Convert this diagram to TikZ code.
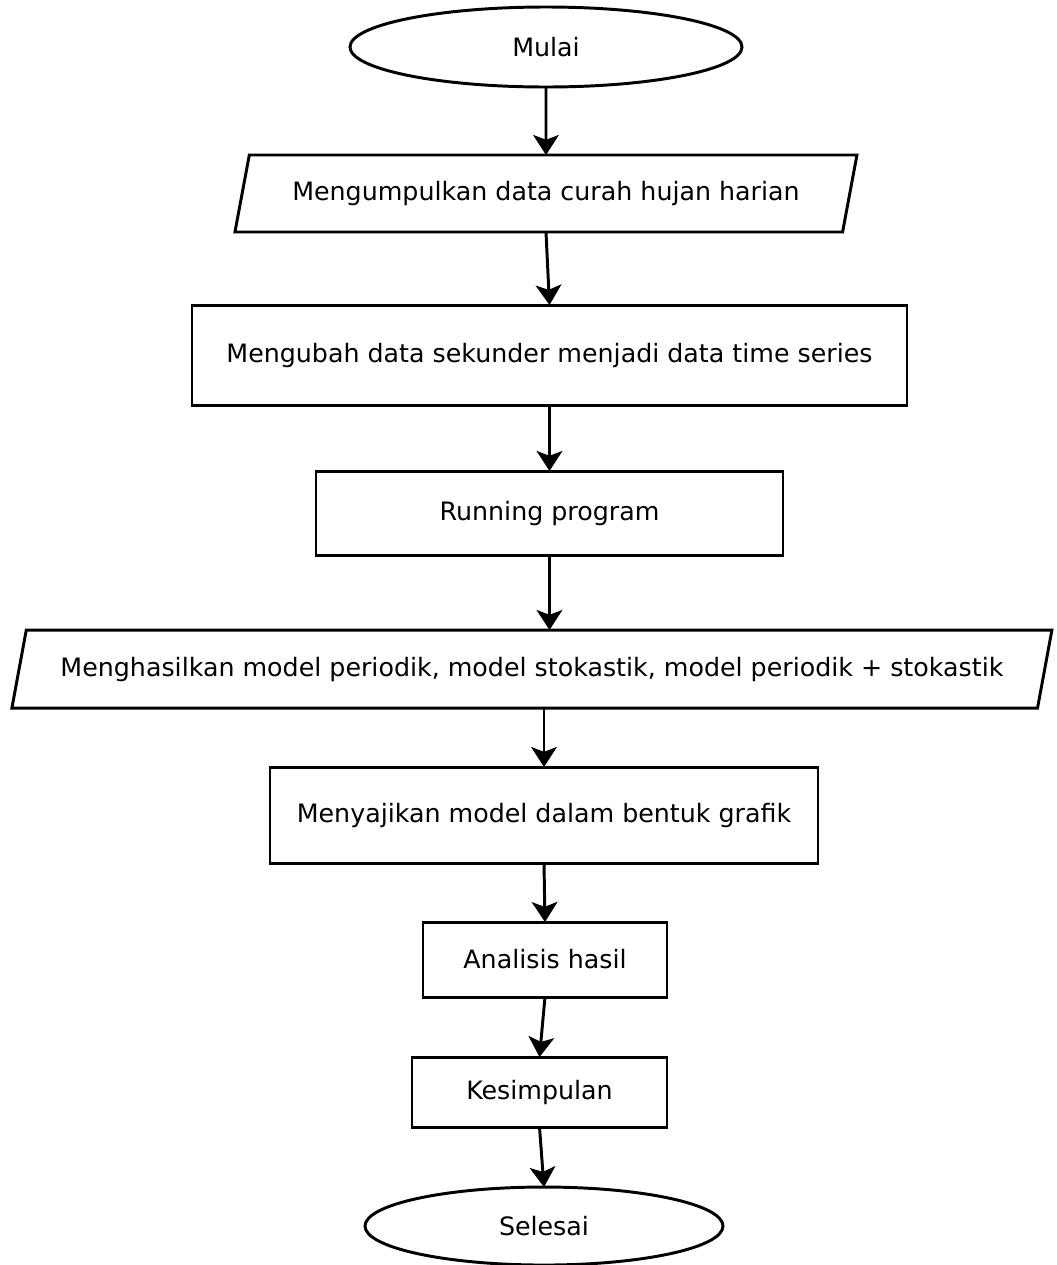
\documentclass[tikz,border=0pt]{standalone}
\usepackage{fontspec}
\setmainfont{DejaVu Sans}
\usepackage{tikz}
\usetikzlibrary{shapes.geometric}
\usetikzlibrary{arrows.meta}
\usetikzlibrary{positioning}

\begin{document}
\begin{tikzpicture}[->,>={Stealth[length=0.5cm,width=0.64cm,inset=0.12cm]},line width=2.1pt,
	every node/.style={font=\fontsize{18}{21}\selectfont, outer sep=0pt},
	start node/.style={ellipse, draw, line width=2.1pt, minimum width=9.8cm, minimum height=2cm},
	io node/.style={trapezium, trapezium left angle=67, trapezium right angle=113, trapezium stretches body=true, draw, line width=2.1pt, inner xsep=1pt},
	proc node/.style={rectangle, draw, line width=2.1pt}]
			\useasboundingbox (-13.65,1.175) rectangle (12.75,-30.45);
			% Nodes
			\node[start node] (1) at (0,0) {Mulai};
			\node[io node, minimum width=15.55cm, minimum height=1.925cm] (2) [below=1.7cm of 1] {Mengumpulkan data curah hujan harian};
			\node[proc node, minimum width=17.875cm, minimum height=2.5cm] (3) [below=1.825cm of 2, xshift=0.0875cm] {Mengubah data sekunder menjadi data time series};
			\node[proc node, minimum width=11.675cm, minimum height=2.1cm] (4) [below=1.65cm of 3] {Running program};
			\node[io node, minimum width=26cm, minimum height=1.95cm] (5) [below=1.875cm of 4, xshift=-0.4375cm] {Menghasilkan model periodik, model stokastik, model periodik + stokastik};
			\node[proc node, minimum width=13.7cm, minimum height=2.4cm] (6) [below=1.475cm of 5, xshift=0.3cm] {Menyajikan model dalam bentuk grafik};
			\node[proc node, minimum width=6.1cm, minimum height=1.875cm] (7) [below=1.475cm of 6, xshift=0.025cm] {Analisis hasil};
			\node[proc node, minimum width=6.375cm, minimum height=1.75cm] (8) [below=1.5cm of 7, xshift=-0.1375cm] {Kesimpulan};
			\node[start node, minimum width=8.95cm, minimum height=1.95cm] (9) [below=1.5cm of 8, xshift=0.1125cm] {Selesai};
			
			% Arrows
			\path
			(1) edge (2)
			(2.south) edge (3.north)
			(3) edge (4)
			(4.south) edge (4.south |- 5.north)
			(6.north |- 5.south) edge (6.north)
			(6.south) edge (7.north)
			(7.south) edge (8.north)
			(8.south) edge (9.north);
			
		\end{tikzpicture}
\end{document}
